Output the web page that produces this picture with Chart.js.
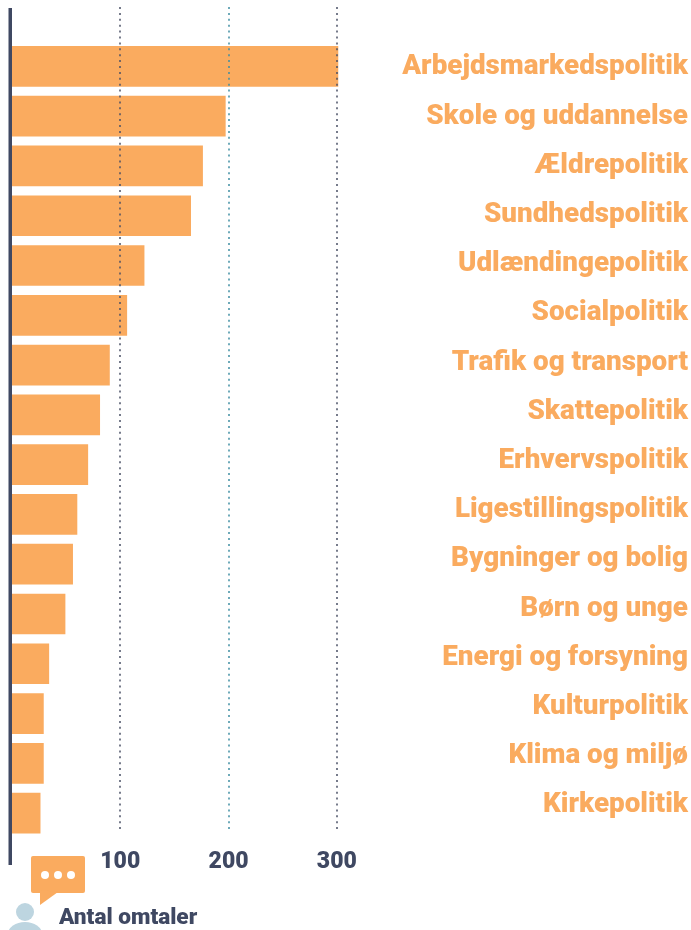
<!DOCTYPE html>
<html>
<head>
<meta charset="utf-8">
<title>Antal omtaler</title>
<script src="https://cdn.jsdelivr.net/npm/chart.js@4"></script>
<style>
    html, body { margin: 0; padding: 0; background: #fff; }
    canvas { display: block; }
</style>
</head>
<body>
<canvas id="topicsChart" width="691" height="930"></canvas>
<script>
const categories = [
    'Arbejdsmarkedspolitik', 'Skole og uddannelse', 'Ældrepolitik', 'Sundhedspolitik',
    'Udlændingepolitik', 'Socialpolitik', 'Trafik og transport', 'Skattepolitik',
    'Erhvervspolitik', 'Ligestillingspolitik', 'Bygninger og bolig', 'Børn og unge',
    'Energi og forsyning', 'Kulturpolitik', 'Klima og miljø', 'Kirkepolitik'
];
const mentions = [301, 197, 176, 165, 122, 106, 90, 81, 70, 60, 56, 49, 34, 29, 29, 26];
const tickValues = [100, 200, 300];
const axisTitle = 'Antal omtaler';

const orange = '#faab5f';
const navy = '#3f4862';
const gridColors = { 100: '#4a5066', 200: '#3f8ea3', 300: '#4a5066' };

// The labels run on a slightly tighter pitch than the bars in the original
const labelFirstY = 67.5;
const labelPitch = 49.2;

// Dotted lines sit on top of the bars and stop short of the axis bar's end
const overlayPlugin = {
    id: 'overlay',
    afterDatasetsDraw(chart) {
        const ctx = chart.ctx;
        const x = chart.scales.x;
        ctx.save();
        ctx.lineWidth = 1.5;
        ctx.setLineDash([2, 3.9]);
        tickValues.forEach(value => {
            const px = Math.round(x.getPixelForValue(value));
            ctx.strokeStyle = gridColors[value];
            ctx.beginPath();
            ctx.moveTo(px, 7);
            ctx.lineTo(px, 833);
            ctx.stroke();
        });
        ctx.setLineDash([]);

        // Vertical axis bar
        ctx.fillStyle = navy;
        ctx.fillRect(x.getPixelForValue(0) - 3.5, 8, 3.5, 857);

        // Category labels
        ctx.fillStyle = orange;
        ctx.font = '900 27.8px Roboto';
        ctx.textAlign = 'right';
        ctx.textBaseline = 'middle';
        categories.forEach((label, i) => {
            ctx.fillText(label, 688, labelFirstY + i * labelPitch);
        });

        // Speech bubble
        ctx.beginPath();
        ctx.roundRect(31, 856, 54, 37, 2);
        ctx.fill();
        ctx.beginPath();
        ctx.moveTo(40, 890);
        ctx.lineTo(40, 905);
        ctx.lineTo(58, 892);
        ctx.closePath();
        ctx.fill();
        ctx.fillStyle = '#fff';
        [45, 58, 71].forEach(cx => {
            ctx.beginPath();
            ctx.arc(cx, 875, 4, 0, Math.PI * 2);
            ctx.fill();
        });

        // Person
        ctx.fillStyle = '#bdd5e0';
        ctx.beginPath();
        ctx.arc(25, 912, 9, 0, Math.PI * 2);
        ctx.fill();
        ctx.beginPath();
        ctx.ellipse(25, 934, 17, 12, 0, 0, Math.PI * 2);
        ctx.fill();

        ctx.fillStyle = navy;
        ctx.font = '900 22.6px Roboto';
        ctx.textAlign = 'left';
        ctx.fillText(axisTitle, 59, 918);
        ctx.restore();
    }
};

new Chart(document.getElementById('topicsChart').getContext('2d'), {
    type: 'bar',
    data: {
        labels: categories,
        datasets: [{
            data: mentions,
            backgroundColor: orange,
            barThickness: 40
        }]
    },
    options: {
        indexAxis: 'y',
        responsive: false,
        animation: false,
        layout: { padding: { left: 12, top: 41.5, right: 3 } },
        plugins: {
            legend: { display: false },
            tooltip: { enabled: false }
        },
        scales: {
            x: {
                min: 0,
                max: 350,
                afterBuildTicks: axis => {
                    axis.ticks = tickValues.map(value => ({ value }));
                },
                afterFit: axis => { axis.height = 92; },
                grid: { display: false },
                border: { display: false },
                ticks: {
                    autoSkip: false,
                    maxRotation: 0,
                    padding: 2,
                    color: navy,
                    font: { family: 'Roboto', weight: '900', size: 23 }
                }
            },
            y: {
                position: 'right',
                afterFit: axis => { axis.width = 297; },
                grid: { display: false },
                border: { display: false },
                ticks: { display: false }
            }
        }
    },
    plugins: [overlayPlugin]
});
</script>
</body>
</html>
